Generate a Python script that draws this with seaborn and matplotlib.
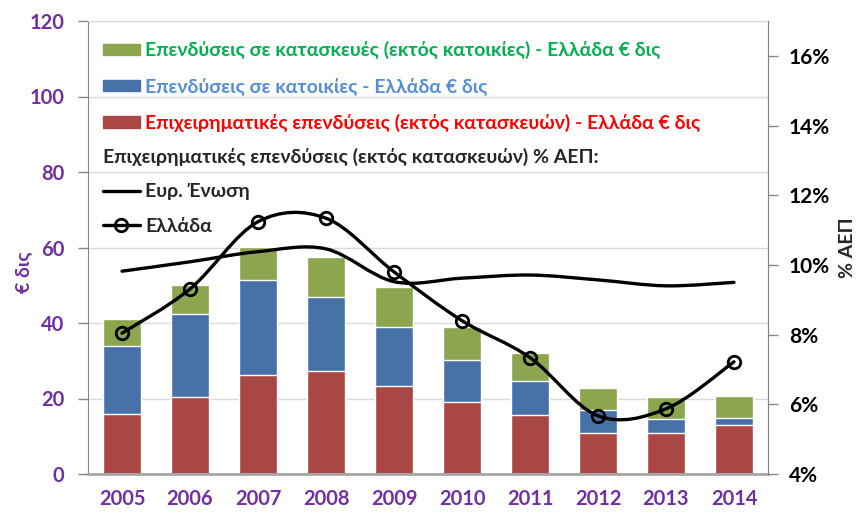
import numpy as np
import matplotlib
matplotlib.use("Agg")
import matplotlib.pyplot as plt
import seaborn as sns
from matplotlib.path import Path
from matplotlib.patches import PathPatch, Patch
from matplotlib.lines import Line2D
from matplotlib.ticker import FuncFormatter

# Data
years = ["2005", "2006", "2007", "2008", "2009", "2010", "2011", "2012", "2013", "2014"]
business = [16.0, 20.3, 26.1, 27.3, 23.2, 19.1, 15.5, 10.9, 10.8, 12.9]
housing = [18.0, 22.0, 25.3, 19.6, 15.7, 11.2, 9.1, 6.1, 3.8, 2.0]
construction = [7.0, 7.8, 8.6, 10.6, 10.7, 8.7, 7.4, 5.7, 5.9, 5.8]
eu_pct = [9.82, 10.09, 10.38, 10.46, 9.52, 9.62, 9.71, 9.57, 9.40, 9.50]
gr_pct = [8.04, 9.31, 11.24, 11.34, 9.80, 8.40, 7.34, 5.67, 5.87, 7.22]

PURPLE = "#7030A0"
GREEN = "#8BA64E"
BLUE = "#4672A8"
RED = "#A94744"

sns.set_style("white")
plt.rcParams["font.family"] = ["Lato", "Noto Sans", "DejaVu Sans"]
plt.rcParams["font.weight"] = "bold"


def smooth_path(xs, ys):
    # cubic bezier through the points, like Excel's smoothed line
    pts = np.column_stack([xs, ys]).astype(float)
    verts = [pts[0]]
    codes = [Path.MOVETO]
    n = len(pts)
    for i in range(n - 1):
        p0 = pts[max(i - 1, 0)]
        p1 = pts[i]
        p2 = pts[i + 1]
        p3 = pts[min(i + 2, n - 1)]
        c1 = p1 + (p2 - p0) / 6.0
        c2 = p2 - (p3 - p1) / 6.0
        verts += [c1, c2, p2]
        codes += [Path.CURVE4] * 3
    return Path(verts, codes)


fig = plt.figure(figsize=(8.58, 5.12), dpi=100)
ax = fig.add_axes([88 / 858, 38 / 512, 680 / 858, 453 / 512])

x = np.arange(len(years))
total = np.array(business) + np.array(housing) + np.array(construction)
res = np.array(business) + np.array(housing)

# stacked bars, drawn back to front
sns.barplot(x=years, y=total, color=GREEN, width=0.57, saturation=1, ax=ax, zorder=2)
sns.barplot(x=years, y=res, color=BLUE, width=0.57, saturation=1, ax=ax, zorder=2)
sns.barplot(x=years, y=business, color=RED, width=0.57, saturation=1, ax=ax, zorder=2)

ax.set_xlim(-0.5, 9.5)
ax.set_ylim(0, 120)
ax.set_yticks(range(0, 121, 20))
ax.yaxis.grid(True, color="#D9D9D9", lw=1, zorder=0)
ax.set_axisbelow(True)
ax.tick_params(axis="y", colors="#868686", length=7, width=1, pad=10,
               labelcolor=PURPLE, labelsize=14.5, left=True)
ax.tick_params(axis="x", length=0, pad=11, labelcolor=PURPLE, labelsize=14.5)
for t in ax.get_xticklabels() + ax.get_yticklabels():
    t.set_fontweight("bold")
ax.set_ylabel("€ δις", color=PURPLE, fontsize=14, fontweight="bold")
ax.yaxis.set_label_coords(-0.082, 0.446)
ax.set_xlabel("")

for side in ["left", "bottom", "right", "top"]:
    ax.spines[side].set_visible(True)
ax.spines["left"].set_color("#868686")
ax.spines["bottom"].set_color("#A6A6A6")
ax.spines["bottom"].set_linewidth(2)
ax.spines["top"].set_color("#D9D9D9")
ax.spines["right"].set_color("#868686")

# % of GDP on secondary axis
ax2 = ax.twinx()
ax2.set_ylim(4, 17)
ax2.set_yticks(range(4, 17, 2))
ax2.yaxis.set_major_formatter(FuncFormatter(lambda v, p: f"{v:.0f}%"))
ax2.tick_params(axis="y", colors="#868686", length=7, width=1, pad=8,
                labelcolor="black", labelsize=15, right=True)
for t in ax2.get_yticklabels():
    t.set_fontweight("bold")
ax2.set_ylabel("% ΑΕΠ", fontsize=14, fontweight="bold", labelpad=6)
for side in ["left", "bottom", "top"]:
    ax2.spines[side].set_visible(False)
ax2.spines["right"].set_color("#868686")

ax2.add_patch(PathPatch(smooth_path(x, eu_pct), fill=False, lw=2.4,
                        ec="black", capstyle="round", zorder=3))
ax2.add_patch(PathPatch(smooth_path(x, gr_pct), fill=False, lw=2.4,
                        ec="black", capstyle="round", zorder=3))
ax2.plot(x, gr_pct, ls="none", marker="o", ms=9, mfc="none", mec="black",
         mew=2, zorder=4)

# legends
bar_handles = [Patch(color=GREEN), Patch(color=BLUE), Patch(color=RED)]
bar_labels = [
    "Επενδύσεις σε κατασκευές (εκτός κατοικίες) - Ελλάδα € δις",
    "Επενδύσεις σε κατοικίες - Ελλάδα € δις",
    "Επιχειρηματικές επενδύσεις (εκτός κατασκευών) - Ελλάδα € δις",
]
leg1 = ax2.legend(bar_handles, bar_labels, loc="upper left",
                  bbox_to_anchor=(15 / 680, 0.955), frameon=False,
                  borderpad=0, borderaxespad=0, handlelength=1.9,
                  handleheight=0.55, handletextpad=0.27, labelspacing=0.93,
                  prop={"size": 14, "weight": "bold"},
                  labelcolor=["#00B050", "#558ED5", "#FF0000"])
ax2.add_artist(leg1)

line_handles = [
    Line2D([], [], color="black", lw=2.4),
    Line2D([], [], color="black", lw=2.4, marker="o", ms=9, mfc="none", mew=2),
]
leg2 = ax2.legend(line_handles, ["Ευρ. Ένωση", "Ελλάδα"], loc="upper left",
                  bbox_to_anchor=(15 / 680, 0.72), frameon=False,
                  borderpad=0, borderaxespad=0, handlelength=1.9,
                  handletextpad=0.27, labelspacing=0.9,
                  prop={"size": 14, "weight": "bold"},
                  title="Επιχειρηματικές επενδύσεις (εκτός κατασκευών) % ΑΕΠ:",
                  title_fontproperties={"size": 14, "weight": "bold"},
                  alignment="left")

fig.savefig("out.png", dpi=100)
